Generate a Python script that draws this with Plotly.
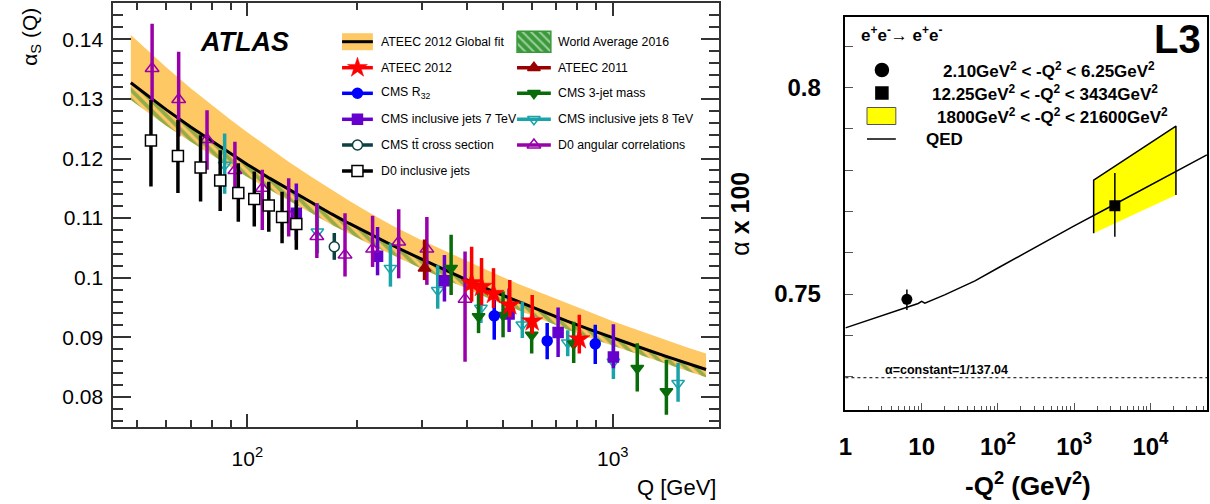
import plotly.graph_objects as go

W, H = 1210, 504

# ---------------- Left panel data (alpha_s vs Q) ----------------
fit_q = [48, 55, 60, 70, 80, 90, 100, 115, 130, 150, 170, 190, 220, 250, 300, 350, 400, 475, 550, 650,
         750, 875, 1000, 1200, 1400, 1600, 1800]
fit_central = [0.1327, 0.1299, 0.1282, 0.1253, 0.1229, 0.1208, 0.1190, 0.1167, 0.1148, 0.1126, 0.1107,
               0.1091, 0.1071, 0.1054, 0.1031, 0.1012, 0.0996, 0.0976, 0.0960, 0.0942, 0.0927, 0.0912,
               0.0899, 0.0882, 0.0868, 0.0856, 0.0846]
fit_upper = [0.1407, 0.1374, 0.1353, 0.1318, 0.1289, 0.1265, 0.1244, 0.1217, 0.1194, 0.1169, 0.1148,
             0.1129, 0.1106, 0.1087, 0.1063, 0.1044, 0.1027, 0.1007, 0.0990, 0.0972, 0.0957, 0.0941,
             0.0927, 0.0910, 0.0895, 0.0883, 0.0873]
wa_lower = [0.1298, 0.1271, 0.1255, 0.1228, 0.1205, 0.1186, 0.1169, 0.1147, 0.1129, 0.1108, 0.1089,
            0.1074, 0.1054, 0.1038, 0.1015, 0.0997, 0.0981, 0.0961, 0.0946, 0.0928, 0.0913, 0.0898,
            0.0886, 0.0869, 0.0855, 0.0843, 0.0833]

d0_incl_q = [54.5, 64.6, 74.5, 84.3, 94.5, 104.5, 114.5, 124.5, 136.2]
d0_incl_a = [0.1230, 0.1204, 0.1185, 0.1163, 0.1142, 0.1132, 0.1121, 0.1102, 0.1090]
d0_incl_up = [0.0068, 0.0061, 0.0054, 0.0051, 0.0050, 0.0046, 0.0040, 0.0042, 0.0040]
d0_incl_dn = [0.0077, 0.0062, 0.0057, 0.0051, 0.0048, 0.0046, 0.0044, 0.0044, 0.0043]

d0_ang_q = [54.9, 64.9, 77.6, 92.5, 109.9, 129.8, 155.0, 185.1, 220.2, 259.6, 310, 394.3]
d0_ang_a = [0.1351, 0.1299, 0.1232, 0.1180, 0.1150, 0.1105, 0.1069, 0.1038, 0.1048, 0.1060, 0.1048, 0.0964]
d0_ang_up = [0.0075, 0.0080, 0.0049, 0.0048, 0.0031, 0.0062, 0.0056, 0.0070, 0.0056, 0.0055, 0.0054, 0.0080]
d0_ang_dn = [0.0056, 0.0062, 0.0051, 0.0038, 0.0070, 0.0036, 0.0036, 0.0036, 0.0030, 0.0061, 0.0060, 0.0105]

cms8_q = [86.7, 155.5, 246.4, 331.9, 435.8, 565.6, 753, 1004, 1509]
cms8_a = [0.1189, 0.1077, 0.1016, 0.0979, 0.0949, 0.0921, 0.0891, 0.0859, 0.0823]
cms8_up = [0.0053, 0.0048, 0.0042, 0.0042, 0.0033, 0.0039, 0.0021, 0.0034, 0.0034]
cms8_dn = [0.0048, 0.0036, 0.0031, 0.0031, 0.0025, 0.0022, 0.0023, 0.0029, 0.0031]

cms7_q = [136.2, 227.2, 346.3, 520.4, 708.7, 1004]
cms7_a = [0.1108, 0.1036, 0.0995, 0.0939, 0.0908, 0.0867]
cms7_up = [0.0050, 0.0049, 0.0043, 0.0043, 0.0042, 0.0055]
cms7_dn = [0.0045, 0.0032, 0.0035, 0.0030, 0.0041, 0.0019]

cmsr32_q = [473.9, 661.6, 895.6]
cmsr32_a = [0.0936, 0.0894, 0.0889]
cmsr32_up = [0.0027, 0.0030, 0.0032]
cmsr32_dn = [0.0040, 0.0031, 0.0034]

cms3j_q = [361.2, 429.3, 501, 600, 781.8, 1167, 1402]
cms3j_a = [0.1016, 0.0935, 0.0937, 0.0904, 0.0889, 0.0848, 0.0809]
cms3j_up = [0.0056, 0.0045, 0.0040, 0.0030, 0.0037, 0.0042, 0.0053]
cms3j_dn = [0.0045, 0.0028, 0.0037, 0.0031, 0.0032, 0.0039, 0.0039]

cmstt_q = [173]
cmstt_a = [0.1052]
cmstt_up = [0.0023]
cmstt_dn = [0.0022]

ateec11_q = [305.5]
ateec11_a = [0.1016]
ateec11_up = [0.0048]
ateec11_dn = [0.0020]

ateec12_q = [411, 437.5, 471.7, 522.6, 602, 810]
ateec12_a = [0.0991, 0.0985, 0.0973, 0.0954, 0.0927, 0.0897]
ateec12_up = [0.0061, 0.0048, 0.0043, 0.0042, 0.0044, 0.0041]
ateec12_dn = [0.0031, 0.0031, 0.0024, 0.0020, 0.0021, 0.0024]

left_y_ticks = [0.08, 0.09, 0.10, 0.11, 0.12, 0.13, 0.14]
left_y_ticktext = ["0.08", "0.09", "0.1", "0.11", "0.12", "0.13", "0.14"]
left_x_ticks = [100, 1000]
left_x_ticktext = ["10<sup>2</sup>", "10<sup>3</sup>"]
left_x_minor = [50, 60, 70, 80, 90, 200, 300, 400, 500, 600, 700, 800, 900]

# ---------------- Right panel data (alpha x 100 vs -Q^2) ----------------
qed_x = [1, 3, 6.4, 9, 10, 11, 20, 50, 100, 300, 1000, 3000, 10000, 55000]
qed_a = [0.7418, 0.7448, 0.7468, 0.7477, 0.7482, 0.7478, 0.7498, 0.7532, 0.7563, 0.7612, 0.7665, 0.7712, 0.7764, 0.7837]

l3_low_x = [6.4]
l3_low_a = [0.7487]
l3_low_up = [0.0024]
l3_low_dn = [0.0026]

l3_mid_x = [3414]
l3_mid_a = [0.7714]
l3_mid_up = [0.0079]
l3_mid_dn = [0.0075]

l3_band_x = [1800, 1800, 21600, 21600]
l3_band_a = [0.7647, 0.7776, 0.7907, 0.7740]

alpha_const = 100 / 137.04

right_x_ticks = [1, 10, 100, 1000, 10000]
right_x_ticktext = ["1", "10", "10<sup>2</sup>", "10<sup>3</sup>", "10<sup>4</sup>"]
right_x_minor = [m * 10 ** d for d in range(5) for m in range(2, 10)]
right_y_ticks = [0.75, 0.80]
right_y_ticktext = ["0.75", "0.8"]
right_y_minor = [0.73, 0.74, 0.76, 0.77, 0.78, 0.79, 0.81]

# ---------------- Styles ----------------
ORANGE = "#fec864"
GREEN = "#2a8f2a"
C_ATEEC12 = "#ff0000"
C_ATEEC11 = "#990000"
C_R32 = "#0000ff"
C_CMS7 = "#6600cc"
C_CMS8 = "#1aa3a8"
C_TT = "#0d4040"
C_D0ANG = "#9900aa"
C_D0INC = "#000000"
C_3J = "#0a6b0a"
FONT = "Liberation Sans"

fig = go.Figure()

# Bands
fig.add_trace(go.Scatter(x=fit_q, y=wa_lower, mode="lines", line=dict(width=0), showlegend=False,
                         xaxis="x", yaxis="y", hoverinfo="skip"))
fig.add_trace(go.Scatter(x=fit_q, y=fit_upper, mode="lines", line=dict(width=0), fill="tonexty",
                         fillcolor=ORANGE, showlegend=False, xaxis="x", yaxis="y", hoverinfo="skip"))
fig.add_trace(go.Scatter(x=fit_q, y=wa_lower, mode="lines", line=dict(width=0), showlegend=False,
                         xaxis="x", yaxis="y", hoverinfo="skip"))
fig.add_trace(go.Scatter(x=fit_q, y=fit_central, mode="lines", line=dict(width=0), fill="tonexty",
                         fillcolor="rgba(0,0,0,0)",
                         fillpattern=dict(shape="\\", fgcolor=GREEN, bgcolor="rgba(0,0,0,0)",
                                          size=7, solidity=0.55),
                         showlegend=False, xaxis="x", yaxis="y", hoverinfo="skip"))
fig.add_trace(go.Scatter(x=fit_q, y=fit_central, mode="lines", line=dict(color="black", width=3),
                         showlegend=False, xaxis="x", yaxis="y"))


def add_series(q, a, up, dn, color, symbol, size, fill=None, lw=1.5, ecolor=None):
    fig.add_trace(go.Scatter(
        x=q, y=a, mode="markers", showlegend=False, xaxis="x", yaxis="y",
        marker=dict(symbol=symbol, size=size, color=fill if fill else color,
                    line=dict(color=color, width=lw)),
        error_y=dict(type="data", symmetric=False, array=up, arrayminus=dn,
                     thickness=3.5, width=0, color=ecolor if ecolor else color),
    ))


add_series(cms8_q, cms8_a, cms8_up, cms8_dn, C_CMS8, "triangle-down-open", 11)
add_series(cms7_q, cms7_a, cms7_up, cms7_dn, C_CMS7, "square", 10)
add_series(cms3j_q, cms3j_a, cms3j_up, cms3j_dn, C_3J, "triangle-down", 11)
add_series(cmsr32_q, cmsr32_a, cmsr32_up, cmsr32_dn, C_R32, "circle", 10)
add_series(cmstt_q, cmstt_a, cmstt_up, cmstt_dn, C_TT, "circle", 10, fill="white")
add_series(d0_ang_q, d0_ang_a, d0_ang_up, d0_ang_dn, C_D0ANG, "triangle-up-open", 12)
add_series(d0_incl_q, d0_incl_a, d0_incl_up, d0_incl_dn, C_D0INC, "square", 11, fill="white")
add_series(ateec11_q, ateec11_a, ateec11_up, ateec11_dn, C_ATEEC11, "triangle-up", 11)
add_series(ateec12_q, ateec12_a, ateec12_up, ateec12_dn, C_ATEEC12, "star", 16, lw=0.5)

# Right panel
fig.add_trace(go.Scatter(x=l3_band_x, y=l3_band_a, mode="lines", fill="toself", fillcolor="#ffff00",
                         line=dict(color="black", width=1.5), showlegend=False, xaxis="x2", yaxis="y2"))
fig.add_trace(go.Scatter(x=qed_x, y=qed_a, mode="lines", line=dict(color="black", width=1.5),
                         showlegend=False, xaxis="x2", yaxis="y2"))
fig.add_trace(go.Scatter(x=l3_low_x, y=l3_low_a, mode="markers", showlegend=False, xaxis="x2", yaxis="y2",
                         marker=dict(symbol="circle", size=11, color="black"),
                         error_y=dict(type="data", symmetric=False, array=l3_low_up, arrayminus=l3_low_dn,
                                      thickness=1.5, width=0, color="black")))
fig.add_trace(go.Scatter(x=l3_mid_x, y=l3_mid_a, mode="markers", showlegend=False, xaxis="x2", yaxis="y2",
                         marker=dict(symbol="square", size=11, color="black"),
                         error_y=dict(type="data", symmetric=False, array=l3_mid_up, arrayminus=l3_mid_dn,
                                      thickness=1.5, width=0, color="black")))

# ---------------- Manual legends on a pixel overlay axis ----------------
def leg_line(x0, x1, y, color, width=3.5):
    fig.add_trace(go.Scatter(x=[x0, x1], y=[y, y], mode="lines", line=dict(color=color, width=width),
                             showlegend=False, xaxis="x3", yaxis="y3", hoverinfo="skip", cliponaxis=False))


def leg_marker(x, y, color, symbol, size, fill=None, lw=1.5):
    fig.add_trace(go.Scatter(x=[x], y=[y], mode="markers",
                             marker=dict(symbol=symbol, size=size, color=fill if fill else color,
                                         line=dict(color=color, width=lw)),
                             showlegend=False, xaxis="x3", yaxis="y3", hoverinfo="skip", cliponaxis=False))


annotations = []


def leg_text(x, y, text, size=12.3, bold=False, xanchor="left"):
    annotations.append(dict(x=x / W, y=1 - y / H, xref="paper", yref="paper", text=text, showarrow=False,
                            xanchor=xanchor, yanchor="middle",
                            font=dict(family=FONT, size=size, color="black",
                                      weight="bold" if bold else "normal")))


rows = [41.7, 67.7, 93.3, 119.3, 145.0, 171.0]
c1 = (337, 368, 352.5, 374)
c2 = (513, 547, 530, 552)

# Global fit swatch
fig.add_trace(go.Scatter(x=[c1[0], c1[1], c1[1], c1[0], c1[0]],
                         y=[rows[0] - 8.5, rows[0] - 8.5, rows[0] + 8.5, rows[0] + 8.5, rows[0] - 8.5],
                         mode="lines", fill="toself", fillcolor=ORANGE, line=dict(width=0),
                         showlegend=False, xaxis="x3", yaxis="y3", hoverinfo="skip"))
leg_line(c1[0], c1[1], rows[0], "black", 3)
leg_text(c1[3], rows[0], "ATEEC 2012 Global fit")

# World average swatch
fig.add_trace(go.Scatter(x=[c2[0], c2[1], c2[1], c2[0], c2[0]],
                         y=[rows[0] - 10.5, rows[0] - 10.5, rows[0] + 10.5, rows[0] + 10.5, rows[0] - 10.5],
                         mode="lines", fill="toself", fillcolor="#3a9a3a",
                         fillpattern=dict(shape="\\", fgcolor="white", bgcolor="#3a9a3a", size=6, solidity=0.35),
                         line=dict(width=1.5, color="#3a9a3a"),
                         showlegend=False, xaxis="x3", yaxis="y3", hoverinfo="skip"))
leg_text(c2[3], rows[0], "World Average 2016")

left_entries = [
    (c1, rows[1], "ATEEC 2012", C_ATEEC12, "star", 15, None, 0.5),
    (c1, rows[2], "CMS R<sub>32</sub>", C_R32, "circle", 10, None, 1.5),
    (c1, rows[3], "CMS inclusive jets 7 TeV", C_CMS7, "square", 10, None, 1.5),
    (c1, rows[4], "CMS tt\u0304 cross section", C_TT, "circle", 10, "white", 1.5),
    (c1, rows[5], "D0 inclusive jets", C_D0INC, "square", 11, "white", 1.5),
    (c2, rows[1], "ATEEC 2011", C_ATEEC11, "triangle-up", 11, None, 1.5),
    (c2, rows[2], "CMS 3-jet mass", C_3J, "triangle-down", 11, None, 1.5),
    (c2, rows[3], "CMS inclusive jets 8 TeV", C_CMS8, "triangle-down-open", 11, None, 1.5),
    (c2, rows[4], "D0 angular correlations", C_D0ANG, "triangle-up-open", 12, None, 1.5),
]
for col, y, label, color, sym, size, fill, lw in left_entries:
    leg_line(col[0], col[1], y, color)
    leg_marker(col[2], y, color, sym, size, fill, lw)
    leg_text(col[3], y, label)

# Right legend
leg_marker(880, 70, "black", "circle", 13)
leg_marker(880, 93, "black", "square", 12)
fig.add_trace(go.Scatter(x=[865, 894, 894, 865, 865], y=[107.5, 107.5, 124.5, 124.5, 107.5],
                         mode="lines", fill="toself", fillcolor="#ffff00", line=dict(width=1, color="#555555"),
                         showlegend=False, xaxis="x3", yaxis="y3", hoverinfo="skip"))
leg_line(865, 894, 139, "black", 1.5)
leg_text(1048, 70, "2.10GeV<sup>2</sup> &lt; -Q<sup>2</sup> &lt; 6.25GeV<sup>2</sup>", size=17, bold=True, xanchor="center")
leg_text(1044, 93, "12.25GeV<sup>2</sup> &lt; -Q<sup>2</sup> &lt; 3434GeV<sup>2</sup>", size=17, bold=True, xanchor="center")
leg_text(1052, 116, "1800GeV<sup>2</sup> &lt; -Q<sup>2</sup> &lt; 21600GeV<sup>2</sup>", size=17, bold=True, xanchor="center")
leg_text(922, 139, "QED", size=17, bold=True)
leg_text(857, 34, "e<sup>+</sup>e<sup>-</sup>\u2192 e<sup>+</sup>e<sup>-</sup>", size=17, bold=True)
leg_text(1203, 39, "L3", size=40, bold=True, xanchor="right")
leg_text(881, 370, "\u03b1=constant=1/137.04", size=12.5, bold=True)

# Titles / labels
annotations.append(dict(x=239 / W, y=1 - 42 / H, xref="paper", yref="paper", showarrow=False,
                        text="<b><i>ATLAS</i></b>", font=dict(family=FONT, size=27, color="black"),
                        xanchor="center", yanchor="middle"))
annotations.append(dict(x=24 / W, y=1 - 37 / H, xref="paper", yref="paper", showarrow=False,
                        text="\u03b1<sub>S</sub> (Q)", textangle=-90,
                        font=dict(family=FONT, size=21, color="black"), xanchor="center", yanchor="middle"))
annotations.append(dict(x=715 / W, y=1 - 487 / H, xref="paper", yref="paper", showarrow=False,
                        text="Q [GeV]", font=dict(family=FONT, size=22, color="black"),
                        xanchor="right", yanchor="middle"))
annotations.append(dict(x=737 / W, y=1 - 214 / H, xref="paper", yref="paper", showarrow=False,
                        text="\u03b1 <b>x 100</b>", textangle=-90,
                        font=dict(family=FONT, size=25, color="black"), xanchor="center", yanchor="middle"))
annotations.append(dict(x=1027 / W, y=1 - 484 / H, xref="paper", yref="paper", showarrow=False,
                        text="<b>-Q<sup>2</sup> (GeV<sup>2</sup>)</b>", font=dict(family=FONT, size=26, color="black"),
                        xanchor="center", yanchor="middle"))

shapes = [dict(type="line", xref="x2 domain", yref="y2", x0=0, x1=1, y0=alpha_const, y1=alpha_const,
               line=dict(color="black", width=1, dash="dot"))]

AX = "#333333"
fig.update_layout(
    width=W, height=H, margin=dict(l=0, r=0, t=0, b=0),
    paper_bgcolor="white", plot_bgcolor="rgba(0,0,0,0)",
    font=dict(family=FONT, color="black"),
    showlegend=False,
    annotations=annotations, shapes=shapes,
    xaxis=dict(type="log", domain=[107 / W, 716 / W], range=[1.6336, 3.2903],
               showgrid=False, zeroline=False, showline=True, linecolor=AX, linewidth=2, mirror="allticks",
               ticks="inside", ticklen=13, tickwidth=1.5, tickcolor=AX,
               tickvals=left_x_ticks, ticktext=left_x_ticktext, ticklabelstandoff=12,
               tickfont=dict(family=FONT, size=21, color="black"),
               minor=dict(tickmode="array", tickvals=left_x_minor, ticks="inside", ticklen=7,
                          tickwidth=1.5, tickcolor=AX, showgrid=False),
               anchor="y"),
    yaxis=dict(domain=[(H - 427) / H, (H - 3) / H], range=[0.07495, 0.14609],
               showgrid=False, zeroline=False, showline=True, linecolor=AX, linewidth=2, mirror="allticks",
               ticks="inside", ticklen=18, tickwidth=1.5, tickcolor=AX,
               tickvals=left_y_ticks, ticktext=left_y_ticktext, ticklabelstandoff=4,
               tickfont=dict(family=FONT, size=21, color="black"),
               minor=dict(dtick=0.002, tick0=0.07, ticks="inside", ticklen=10, tickwidth=1.5,
                          tickcolor=AX, showgrid=False),
               anchor="x"),
    xaxis2=dict(type="log", domain=[843.3 / W, 1207 / W], range=[0, 4.742],
                showgrid=False, zeroline=False, showline=True, linecolor="black", linewidth=1.5, mirror=True,
                ticks="inside", ticklen=7, tickwidth=1, tickcolor="#555555",
                tickvals=right_x_ticks, ticktext=right_x_ticktext, ticklabelstandoff=14,
                tickfont=dict(family=FONT, size=24, color="black", weight="bold"),
                minor=dict(tickmode="array", tickvals=right_x_minor, ticks="inside", ticklen=4,
                           tickwidth=1, tickcolor="#555555", showgrid=False),
                anchor="y2"),
    yaxis2=dict(domain=[(H - 410) / H, (H - 17.3) / H], range=[0.72189, 0.81706],
                showgrid=False, zeroline=False, showline=True, linecolor="black", linewidth=1.5, mirror=True,
                ticks="inside", ticklen=8, tickwidth=1, tickcolor="#555555",
                tickvals=right_y_ticks, ticktext=right_y_ticktext, ticklabelstandoff=18,
                tickfont=dict(family=FONT, size=24, color="black", weight="bold"),
                minor=dict(tickmode="array", tickvals=right_y_minor, ticks="inside", ticklen=8,
                           tickwidth=1, tickcolor="#555555", showgrid=False),
                anchor="x2"),
    xaxis3=dict(domain=[0, 1], range=[0, W], visible=False, anchor="y3"),
    yaxis3=dict(domain=[0, 1], range=[H, 0], visible=False, anchor="x3"),
)

fig.write_html("out.html")
